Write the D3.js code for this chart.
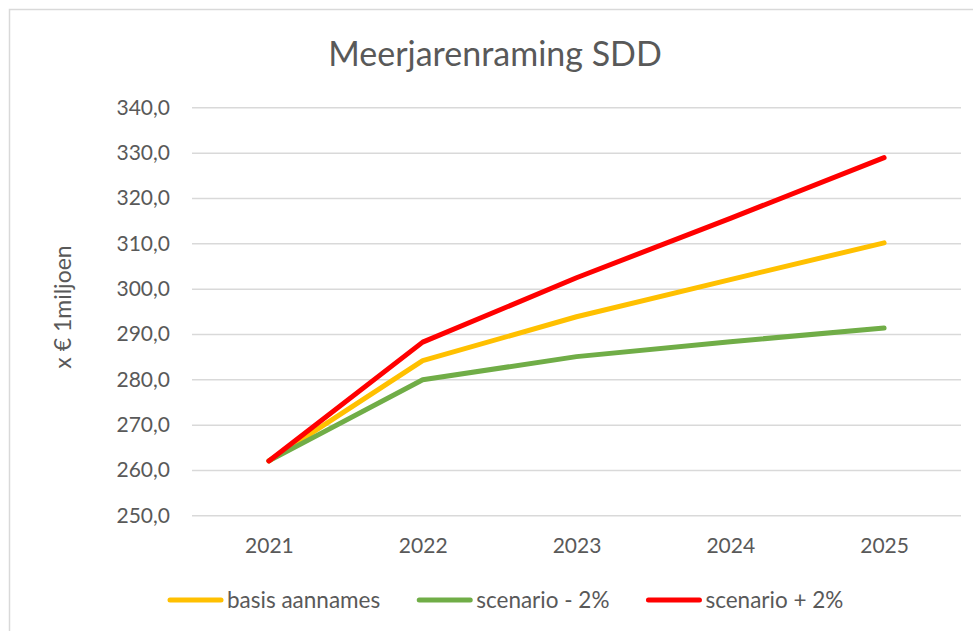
<!DOCTYPE html>
<html>
<head>
<meta charset="utf-8">
<script src="https://cdn.jsdelivr.net/npm/d3@7"></script>
<style>
    body { margin: 0; background: #fff; }
    text { font-family: Lato, "Open Sans", sans-serif; fill: #595959; }
</style>
</head>
<body>
<div id="chart"></div>
<script>

// chart data
let years = ["2021", "2022", "2023", "2024", "2025"];
let basisAannames = [262.0, 284.1, 293.8, 302.0, 310.1];
let scenarioMin2 = [262.0, 279.9, 285.0, 288.3, 291.3];
let scenarioPlus2 = [262.0, 288.2, 302.4, 315.5, 328.9];
let yTicks = [250, 260, 270, 280, 290, 300, 310, 320, 330, 340];

let series = [
    { name: "basis aannames", values: basisAannames, color: "#FFC000" },
    { name: "scenario - 2%", values: scenarioMin2, color: "#70AD47" },
    { name: "scenario + 2%", values: scenarioPlus2, color: "#FF0000" }
];

let width = 973, height = 631;
let plot = { left: 192, right: 961, top: 107.3, bottom: 515.3 };

let svg = d3.select("#chart").append("svg")
    .attr("width", width)
    .attr("height", height);

// chart border
svg.append("rect")
    .attr("x", 9.5).attr("y", 9.5)
    .attr("width", width + 20).attr("height", height + 20)
    .style("fill", "none")
    .style("stroke", "#d9d9d9")
    .style("stroke-width", 1.5);

let x = d3.scalePoint().domain(years).range([plot.left, plot.right]).padding(0.5);
let y = d3.scaleLinear().domain([250, 340]).range([plot.bottom, plot.top]);

// title
svg.append("text")
    .attr("x", 495).attr("y", 66)
    .attr("text-anchor", "middle")
    .style("font-size", "34px")
    .text("Meerjarenraming SDD");

// gridlines + y labels
let yAxis = d3.axisLeft(y)
    .tickValues(yTicks)
    .tickSize(-(plot.right - plot.left))
    .tickPadding(22)
    .tickFormat(d => d3.format(".1f")(d).replace(".", ","));

let yG = svg.append("g")
    .attr("transform", "translate(" + plot.left + ",0)")
    .call(yAxis);
yG.select(".domain").remove();
yG.selectAll(".tick line").style("stroke", "#d9d9d9").style("stroke-width", 1.5);
yG.selectAll(".tick text").style("font-size", "21px").style("font-family", "Lato").style("fill", "#595959");

// x labels
let xAxis = d3.axisBottom(x).tickSize(0).tickPadding(23);
let xG = svg.append("g")
    .attr("transform", "translate(0," + plot.bottom + ")")
    .call(xAxis);
xG.select(".domain").remove();
xG.selectAll(".tick text").style("font-size", "21px").style("font-family", "Lato").style("fill", "#595959");

// y axis title
svg.append("text")
    .attr("transform", "translate(71,307) rotate(-90)")
    .attr("text-anchor", "middle")
    .style("font-size", "23px")
    .text("x € 1miljoen");

// lines
let line = d3.line()
    .x((d, i) => x(years[i]))
    .y(d => y(d));

svg.selectAll(".serie")
    .data(series)
    .enter().append("path")
    .attr("class", "serie")
    .attr("d", d => line(d.values))
    .style("fill", "none")
    .style("stroke", d => d.color)
    .style("stroke-width", 5)
    .style("stroke-linecap", "round")
    .style("stroke-linejoin", "round");

// legend
let legend = svg.append("g").attr("transform", "translate(0,600)");
let lx = 168;
series.forEach(s => {
    legend.append("line")
        .attr("x1", lx + 2).attr("x2", lx + 53)
        .attr("y1", 0).attr("y2", 0)
        .style("stroke", s.color)
        .style("stroke-width", 5)
        .style("stroke-linecap", "round");
    let t = legend.append("text")
        .attr("x", lx + 59).attr("y", 8)
        .style("font-size", "22.5px")
        .text(s.name);
    lx = lx + 59 + t.node().getComputedTextLength() + 37;
});

</script>
</body>
</html>
